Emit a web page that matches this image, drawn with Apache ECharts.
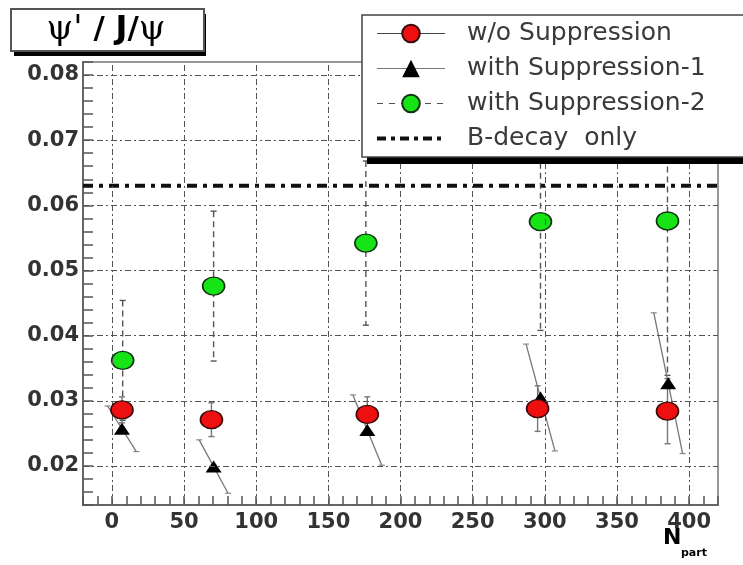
<!DOCTYPE html>
<html><head><meta charset="utf-8">
<script src="https://cdn.jsdelivr.net/npm/echarts@6/dist/echarts.min.js"></script>
<style>html,body{margin:0;padding:0;background:#fff}#c{width:743px;height:565px}</style>
</head><body><div id="c"></div>
<script>
// ---- data ----
const seriesNames = ['w/o Suppression', 'with Suppression-1', 'with Suppression-2', 'B-decay  only'];

const xNoSupp = [7, 69, 177, 295, 385];
const yNoSupp = [0.0286, 0.0271, 0.0279, 0.0288, 0.0284];
const eNoSupp = [0.0020, 0.0026, 0.0027, 0.0035, 0.0050];

const xSupp1 = [7, 70.5, 177, 297, 385.5];
const ySupp1 = [0.0257, 0.0199, 0.0255, 0.0305, 0.0327];
const eSupp1 = [0.0035, 0.0041, 0.0054, 0.0082, 0.0108];

const xSupp2 = [7.5, 70.5, 176, 297, 385];
const ySupp2 = [0.0362, 0.0476, 0.0542, 0.0575, 0.0576];
const eSupp2 = [0.0092, 0.0115, 0.0126, 0.0167, 0.0237];

const bDecayLevel = 0.063;

const xTickLabels = [0, 50, 100, 150, 200, 250, 300, 350, 400];
const yTickLabels = [0.02, 0.03, 0.04, 0.05, 0.06, 0.07, 0.08];
const xRange = [-20, 420];
const yRange = [0.014, 0.082];
const xAxisTitle = {main: 'N', sub: 'part'};
const yTitle = {psiPrime: "ψ'", j: 'J', psi: 'ψ'};

// ---- chart ----
const chart = echarts.init(document.getElementById('c'), null, {renderer: 'canvas'});
const FONT = 'DejaVu Sans';

function vErr(stroke, dash, capHalf) {
  return function (params, api) {
    const x = api.value(0), y = api.value(1), e = api.value(2);
    const a = api.coord([x, y + e]), b = api.coord([x, y - e]);
    const st = {stroke: stroke, lineWidth: 1.4, lineDash: dash};
    return {type: 'group', children: [
      {type: 'line', shape: {x1: a[0], y1: a[1], x2: b[0], y2: b[1]}, style: st},
      {type: 'line', shape: {x1: a[0] - capHalf, y1: a[1], x2: a[0] + capHalf, y2: a[1]}, style: {stroke: stroke, lineWidth: 1.4}},
      {type: 'line', shape: {x1: b[0] - capHalf, y1: b[1], x2: b[0] + capHalf, y2: b[1]}, style: {stroke: stroke, lineWidth: 1.4}}
    ]};
  };
}
function slantErr(params, api) {
  const x = api.value(0), y = api.value(1), e = api.value(2);
  const a = api.coord([x - 10, y + e]), b = api.coord([x + 10, y - e]);
  return {type: 'group', children: [
    {type: 'line', shape: {x1: a[0], y1: a[1], x2: b[0], y2: b[1]}, style: {stroke: '#777', lineWidth: 1.3}},
    {type: 'line', shape: {x1: a[0] - 3, y1: a[1], x2: a[0] + 3, y2: a[1]}, style: {stroke: '#888', lineWidth: 1.2}},
    {type: 'line', shape: {x1: b[0] - 3, y1: b[1], x2: b[0] + 3, y2: b[1]}, style: {stroke: '#888', lineWidth: 1.2}}
  ]};
}
const zip3 = (xs, ys, es) => xs.map((x, i) => [x, ys[i], es[i]]);
const zip2 = (xs, ys) => xs.map((x, i) => [x, ys[i]]);

const option = {
  animation: false,
  backgroundColor: '#fff',
  grid: {left: 83, right: 25, top: 62, bottom: 60, outerBoundsMode: 'none', containLabel: false,
    show: true, borderColor: '#777', borderWidth: 1.5, backgroundColor: '#fff'},
  xAxis: {
    type: 'value', min: xRange[0], max: xRange[1], interval: 10,
    axisLine: {onZero: false, lineStyle: {color: '#666', width: 2}},
    axisTick: {inside: true, length: 9, lineStyle: {color: '#555', width: 1.5}},
    axisLabel: {
      formatter: v => xTickLabels.includes(Math.round(v)) ? String(Math.round(v)) : '',
      margin: 7, fontFamily: FONT, fontWeight: 'bold', fontSize: 21, color: '#333'
    },
    splitLine: {show: false}
  },
  yAxis: {
    type: 'value', min: yRange[0], max: yRange[1], interval: 0.002,
    axisLine: {onZero: false, lineStyle: {color: '#666', width: 2}},
    axisTick: {inside: true, length: 10, lineStyle: {color: '#555', width: 1.5}},
    axisLabel: {
      formatter: v => {
        const k = Math.round(v * 1000);
        return k % 10 === 0 ? (k / 1000).toFixed(2) : '';
      },
      margin: 4, fontFamily: FONT, fontWeight: 'bold', fontSize: 21, color: '#333'
    },
    splitLine: {show: false}
  },
  legend: {
    orient: 'vertical', left: 362, top: 15,
    padding: [6, 40, 6, 13], itemGap: 10, itemWidth: 68, itemHeight: 22,
    backgroundColor: '#fff', borderColor: '#444', borderWidth: 1.5,
    selectedMode: false, z: 10,
    textStyle: {fontFamily: FONT, fontSize: 25, color: '#3a3a3a', padding: [0, 0, 0, 17]},
    data: [
      {name: seriesNames[0], lineStyle: {color: '#444', width: 1.2, type: 'solid', opacity: 1}},
      {name: seriesNames[1], lineStyle: {color: '#777', width: 1.2, type: 'solid', opacity: 1}},
      {name: seriesNames[2], lineStyle: {color: '#555', width: 1.2, type: [6, 6], opacity: 1}},
      {name: seriesNames[3], lineStyle: {color: '#111', width: 4, type: [9, 5, 4, 5], opacity: 1},
        itemStyle: {opacity: 0}}
    ]
  },
  graphic: [
    // drop shadow of the legend box
    {type: 'rect', left: 367, top: 22, z: 9, silent: true,
      shape: {width: 390, height: 142}, style: {fill: '#000'}},
    // title box with shadow
    {type: 'rect', left: 14, top: 14, z: 19, silent: true,
      shape: {width: 192, height: 42}, style: {fill: '#000'}},
    {type: 'rect', left: 10, top: 8, z: 20, silent: true,
      shape: {width: 193, height: 42},
      style: {fill: '#fff', stroke: '#555', lineWidth: 2}},
    {type: 'text', x: 106, y: 30, z: 21,
      style: {
        text: '{p|' + yTitle.psiPrime + '}{s| / }{j|' + yTitle.j + '}{s|/}{p|' + yTitle.psi + '}',
        align: 'center', verticalAlign: 'middle',
        rich: {
          p: {fontFamily: 'DejaVu Serif', fontSize: 34, color: '#333'},
          s: {fontFamily: FONT, fontWeight: 'bold', fontSize: 31, color: '#333'},
          j: {fontFamily: FONT, fontWeight: 'bold', fontSize: 32, color: '#222'}
        }
      }},
    // x-axis title N_part
    {type: 'text', x: 663, y: 529, z: 21,
      style: {
        text: '{n|' + xAxisTitle.main + '}\n{s|' + xAxisTitle.sub + '}',
        align: 'left', verticalAlign: 'top',
        rich: {
          n: {fontFamily: FONT, fontWeight: 'bold', fontSize: 22, color: '#333', lineHeight: 18},
          s: {fontFamily: FONT, fontWeight: 'bold', fontSize: 11, color: '#444', lineHeight: 13, padding: [0, 0, 0, 18]}
        }
      }}
  ],
  series: [
    {
      name: seriesNames[3], type: 'line', z: 1, silent: true,
      data: [[xRange[0], bDecayLevel], [xRange[1], bDecayLevel]],
      symbol: 'none',
      lineStyle: {color: '#111', width: 4, type: [10, 6, 4, 6]},
      emphasis: {disabled: true},
      markLine: {
        silent: true, symbol: ['none', 'none'], label: {show: false},
        lineStyle: {color: '#555', width: 1, type: [6, 3, 2, 3]},
        emphasis: {disabled: true},
        data: [
          ...xTickLabels.map(v => ({xAxis: v})),
          ...yTickLabels.map(v => ({yAxis: v}))
        ]
      }
    },
    {type: 'custom', z: 2, silent: true, clip: true, renderItem: vErr('#555', [6, 4], 3), data: zip3(xSupp2, ySupp2, eSupp2)},
    {type: 'custom', z: 2, silent: true, clip: true, renderItem: vErr('#777', null, 3), data: zip3(xNoSupp, yNoSupp, eNoSupp)},
    {type: 'custom', z: 2, silent: true, clip: true, renderItem: slantErr, data: zip3(xSupp1, ySupp1, eSupp1)},
    {
      name: seriesNames[1], type: 'line', z: 3, silent: true,
      data: zip2(xSupp1, ySupp1),
      symbol: 'triangle', symbolSize: [16, 12], showAllSymbol: true,
      lineStyle: {width: 0, opacity: 0},
      itemStyle: {color: '#000'},
      emphasis: {disabled: true}
    },
    {
      name: seriesNames[2], type: 'line', z: 4, silent: true,
      data: zip2(xSupp2, ySupp2),
      symbol: 'circle', symbolSize: [22, 18], showAllSymbol: true,
      lineStyle: {width: 0, opacity: 0},
      itemStyle: {color: '#16e416', borderColor: '#123312', borderWidth: 1.5},
      emphasis: {disabled: true}
    },
    {
      name: seriesNames[0], type: 'line', z: 5, silent: true,
      data: zip2(xNoSupp, yNoSupp),
      symbol: 'circle', symbolSize: [22, 18], showAllSymbol: true,
      lineStyle: {width: 0, opacity: 0},
      itemStyle: {color: '#ee1010', borderColor: '#3a0a0a', borderWidth: 1.5},
      emphasis: {disabled: true}
    }
  ]
};
chart.setOption(option);
</script>
</body></html>
